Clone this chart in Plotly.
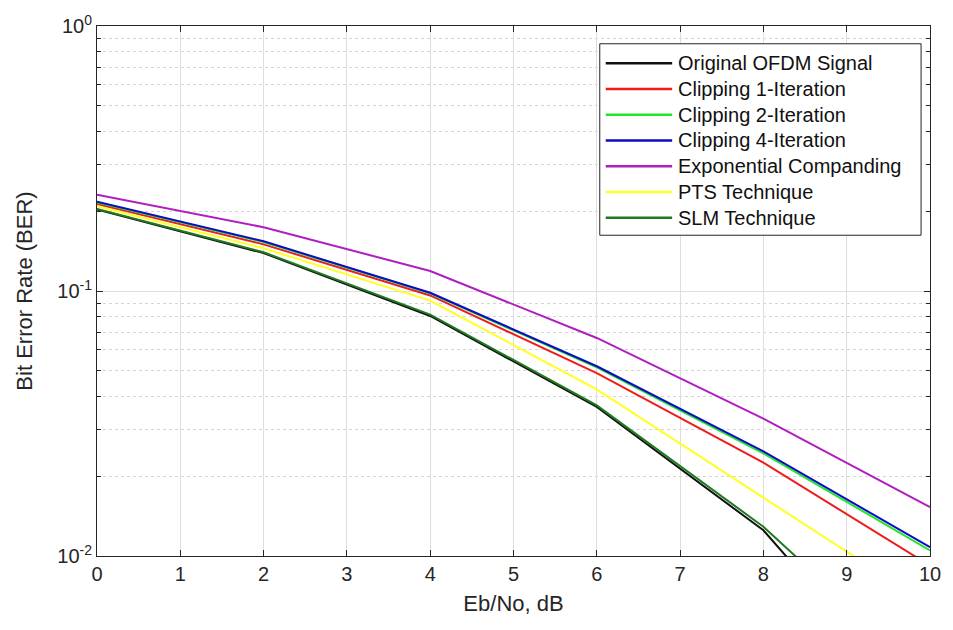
import plotly.graph_objects as go

# Eb/No sweep (dB) and simulated BER for each PAPR-reduction scheme
ebno_db = [0, 2, 4, 6, 8, 10]

ber_original = [0.203, 0.139, 0.0805, 0.0365, 0.0125, 0.0024]
ber_clip1 = [0.213, 0.150, 0.0962, 0.049, 0.0225, 0.0092]
ber_clip2 = [0.216, 0.153, 0.098, 0.0515, 0.0244, 0.0105]
ber_clip4 = [0.217, 0.154, 0.0985, 0.052, 0.0248, 0.0108]
ber_expo = [0.231, 0.174, 0.119, 0.0665, 0.033, 0.0153]
ber_pts = [0.209, 0.145, 0.092, 0.0425, 0.0166, 0.0065]
ber_slm = [0.204, 0.140, 0.0815, 0.037, 0.0129, 0.0034]

series_names = [
    "Original OFDM Signal",
    "Clipping 1-Iteration",
    "Clipping 2-Iteration",
    "Clipping 4-Iteration",
    "Exponential Companding",
    "PTS Technique",
    "SLM Technique",
]
series_values = [ber_original, ber_clip1, ber_clip2, ber_clip4, ber_expo, ber_pts, ber_slm]
series_colors = ["#111111", "#f01c1c", "#22e62a", "#0c0cc4", "#b01ec2", "#ffff22", "#1f7a1f"]

x_tick_vals = list(range(0, 11))
y_tick_vals = [0.01, 0.1, 1]
y_tick_text = ["10<sup>-2</sup>", "10<sup>-1</sup>", "10<sup>0</sup>"]

FONT = "Liberation Sans, Arial, Helvetica, sans-serif"
TXT = "#262626"

fig = go.Figure()
for name, vals, col in zip(series_names, series_values, series_colors):
    fig.add_trace(go.Scatter(
        x=ebno_db, y=vals, name=name, mode="lines",
        line=dict(color=col, width=2), showlegend=False,
    ))

fig.update_xaxes(
    range=[0, 10], tickvals=x_tick_vals,
    showgrid=True, gridcolor="#dedede", gridwidth=1,
    showline=True, linecolor=TXT, linewidth=1, mirror="ticks",
    ticks="inside", ticklen=6, tickcolor=TXT,
    tickfont=dict(family=FONT, size=20, color=TXT),
    title=dict(text="Eb/No, dB", font=dict(family=FONT, size=22, color=TXT), standoff=11),
    zeroline=False,
)
fig.update_yaxes(
    type="log", range=[-2, 0], tickvals=y_tick_vals, ticktext=y_tick_text,
    showgrid=True, gridcolor="#dedede", gridwidth=1,
    showline=True, linecolor=TXT, linewidth=1, mirror="ticks",
    ticks="inside", ticklen=6, tickcolor=TXT,
    tickfont=dict(family=FONT, size=20, color=TXT),
    minor=dict(dtick="D1", ticks="inside", ticklen=4, tickcolor=TXT,
               showgrid=True, gridcolor="#d4d4d4", griddash="dot", gridwidth=1),
    title=dict(text="Bit Error Rate (BER)", font=dict(family=FONT, size=22, color=TXT), standoff=18),
    zeroline=False,
)

# Hand-drawn legend box in the upper-right corner of the axes
plot_l, plot_r, plot_t, plot_b = 97, 937, 19, 556
pw, ph = plot_r - plot_l, plot_b - plot_t


def px_x(p):
    return (p - plot_l) / pw


def px_y(p):
    return (plot_b - p) / ph


shapes = [dict(type="rect", xref="paper", yref="paper",
               x0=px_x(604), x1=px_x(928), y0=px_y(231), y1=px_y(37),
               line=dict(color=TXT, width=1), fillcolor="white", layer="above")]
annotations = []
row0, row_step = 56.7, 26.1
for i, (name, col) in enumerate(zip(series_names, series_colors)):
    yy = px_y(row0 + i * row_step)
    shapes.append(dict(type="line", xref="paper", yref="paper",
                       x0=px_x(610), x1=px_x(677), y0=yy, y1=yy,
                       line=dict(color=col, width=2.5), layer="above"))
    annotations.append(dict(xref="paper", yref="paper", x=px_x(681), y=yy,
                            text=name, showarrow=False, xanchor="left", yanchor="middle",
                            font=dict(family=FONT, size=20, color="#111111")))

fig.update_layout(
    width=953, height=630,
    margin=dict(l=plot_l, r=953 - plot_r, t=plot_t, b=630 - plot_b),
    paper_bgcolor="white", plot_bgcolor="white",
    shapes=shapes, annotations=annotations,
    showlegend=False,
)

fig.write_html("out.html")
